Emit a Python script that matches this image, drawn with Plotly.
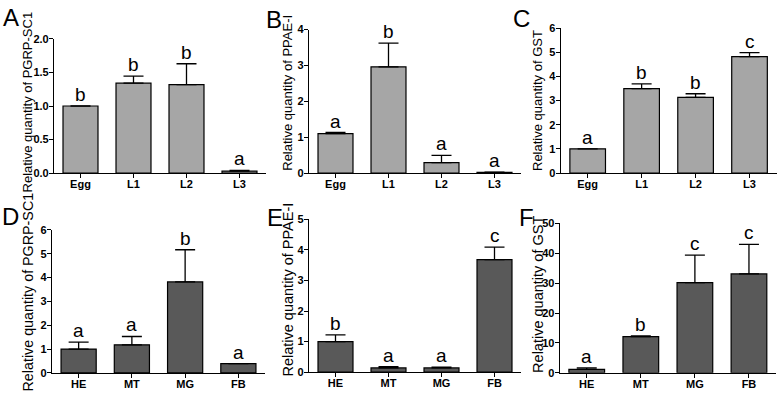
import plotly.graph_objects as go

W, H = 778, 393

# ---------------- data ----------------
stages = ["Egg", "L1", "L2", "L3"]
tissues = ["HE", "MT", "MG", "FB"]

a_vals = [1.0, 1.34, 1.32, 0.03]
a_err = [0.0, 0.105, 0.31, 0.01]
a_sig = ["b", "b", "b", "a"]

b_vals = [1.10, 2.96, 0.29, 0.02]
b_err = [0.03, 0.66, 0.20, 0.005]
b_sig = ["a", "b", "a", "a"]

c_vals = [1.0, 3.49, 3.13, 4.82]
c_err = [0.0, 0.20, 0.15, 0.16]
c_sig = ["a", "b", "b", "c"]

d_vals = [1.0, 1.18, 3.82, 0.39]
d_err = [0.29, 0.35, 1.35, 0.0]
d_sig = ["a", "a", "b", "a"]

e_vals = [1.0, 0.14, 0.14, 3.68]
e_err = [0.22, 0.04, 0.02, 0.41]
e_sig = ["b", "a", "a", "c"]

f_vals = [1.1, 12.1, 30.2, 33.1]
f_err = [0.5, 0.2, 9.2, 9.9]
f_sig = ["a", "b", "c", "c"]

y_titles = ["Relative quantity of PGRP-SC1", "Relative quantity of PPAE-I",
            "Relative quantity of GST", "Relative quantity of PGRP-SC1",
            "Relative quantity of PPAE-I", "Relative quantity of GST"]
panel_letters = ["A", "B", "C", "D", "E", "F"]

def px_x(p):
    return p / W

def px_y(p):
    return 1 - p / H

panels = [
    dict(cats=stages, vals=a_vals, err=a_err, sig=a_sig, color="#a6a6a6",
         xd=(54, 266), yd=(34, 172.3), yr=2, dt=0.5, fmt=".1f",
         tx=27.5, ty=99, ts=13, lx=1, ly=12),
    dict(cats=stages, vals=b_vals, err=b_err, sig=b_sig, color="#a6a6a6",
         xd=(309, 521), yd=(24.3, 172.3), yr=4, dt=1, fmt="d",
         tx=287.5, ty=90, ts=13, lx=264, ly=14),
    dict(cats=stages, vals=c_vals, err=c_err, sig=c_sig, color="#a6a6a6",
         xd=(560.7, 776.5), yd=(22.7, 172.3), yr=6, dt=1, fmt="d",
         tx=537, ty=98, ts=13, lx=511, ly=13),
    dict(cats=tissues, vals=d_vals, err=d_err, sig=d_sig, color="#595959",
         xd=(52, 265), yd=(231, 378.5), yr=6, dt=1, fmt="d",
         tx=28, ty=295.5, ts=14.3, lx=0, ly=217),
    dict(cats=tissues, vals=e_vals, err=e_err, sig=e_sig, color="#595959",
         xd=(309, 521), yd=(220, 377.7), yr=5, dt=1, fmt="d",
         tx=288, ty=292.5, ts=14.5, lx=265, ly=218),
    dict(cats=tissues, vals=f_vals, err=f_err, sig=f_sig, color="#595959",
         xd=(559.7, 776), yd=(224.3, 378.3), yr=50, dt=10, fmt="d",
         tx=538, ty=298, ts=14.5, lx=517, ly=218),
]

FONT = "Arial, 'Liberation Sans', Helvetica, sans-serif"

fig = go.Figure()
annotations = []
layout_axes = {}

for i, p in enumerate(panels):
    n = "" if i == 0 else str(i + 1)
    xa, ya = "x" + n, "y" + n
    fig.add_trace(go.Bar(
        x=p["cats"], y=p["vals"], xaxis=xa, yaxis=ya,
        marker=dict(color=p["color"], line=dict(color="black", width=1.2)),
        error_y=dict(type="data", array=p["err"], arrayminus=[0] * len(p["err"]),
                     symmetric=False, color="black", thickness=1.3, width=10),
        width=0.66, showlegend=False, hoverinfo="skip",
    ))
    layout_axes["xaxis" + n] = dict(
        domain=[px_x(p["xd"][0]), px_x(p["xd"][1])], anchor=ya,
        range=[-0.5, 3.5], showline=True, linecolor="black", linewidth=1.2,
        ticks="outside", ticklen=4, tickwidth=1.2, tickcolor="black",
        ticklabelstandoff=-3,
        tickfont=dict(family=FONT, size=11, color="black", weight="bold"),
        showgrid=False, zeroline=False, fixedrange=True,
    )
    layout_axes["yaxis" + n] = dict(
        domain=[px_y(p["yd"][1]), px_y(p["yd"][0])], anchor=xa,
        range=[0, p["yr"]], dtick=p["dt"], tick0=0, tickformat=p["fmt"],
        tickmode="linear", showticklabels=True,
        showline=True, linecolor="black", linewidth=1.2,
        ticks="outside", ticklen=4, tickwidth=1.2, tickcolor="black",
        ticklabelstandoff=-2,
        tickfont=dict(family=FONT, size=11, color="black", weight="bold"),
        showgrid=False, zeroline=False, fixedrange=True,
    )
    for c, v, e, s in zip(p["cats"], p["vals"], p["err"], p["sig"]):
        annotations.append(dict(
            x=c, y=v + e, xref=xa, yref=ya, text=s, showarrow=False,
            xanchor="center", yanchor="bottom", yshift=-1,
            font=dict(family=FONT, size=19, color="black"),
        ))
    annotations.append(dict(
        x=px_x(p["tx"]), y=px_y(p["ty"]), xref="paper", yref="paper",
        text=y_titles[i], textangle=-90, showarrow=False,
        xanchor="center", yanchor="middle",
        font=dict(family=FONT, size=p["ts"], color="black"),
    ))
    annotations.append(dict(
        x=px_x(p["lx"]), y=px_y(p["ly"]), xref="paper", yref="paper",
        text=panel_letters[i], showarrow=False,
        xanchor="left", yanchor="middle",
        font=dict(family=FONT, size=24, color="black"),
    ))

fig.update_layout(
    width=W, height=H, margin=dict(l=0, r=0, t=0, b=0),
    paper_bgcolor="white", plot_bgcolor="white",
    bargap=0.34, annotations=annotations, **layout_axes,
)

fig.write_html("out.html", config={"displayModeBar": False},
               post_script="document.body.style.margin='0px';document.body.style.padding='0px';")
